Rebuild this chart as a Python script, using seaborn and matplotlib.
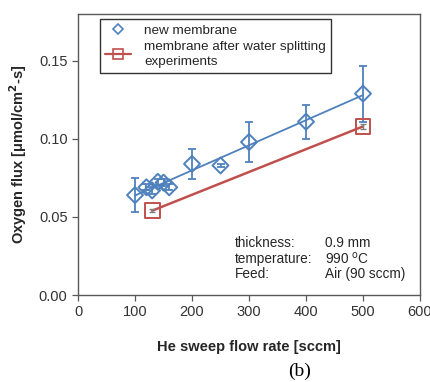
import numpy as np
import pandas as pd
import matplotlib
matplotlib.use("Agg")
import matplotlib.pyplot as plt
from matplotlib.lines import Line2D
import seaborn as sns

# He sweep flow rate [sccm] and oxygen flux [umol/cm2-s]
new_flow = [100, 120, 130, 140, 150, 160, 200, 250, 300, 400, 500]
new_flux = [0.064, 0.069, 0.067, 0.0725, 0.072, 0.069, 0.084, 0.083, 0.098, 0.111, 0.129]
new_err = [0.011, 0.002, 0.002, 0.002, 0.002, 0.002, 0.0095, 0.001, 0.013, 0.011, 0.018]

used_flow = [130, 500]
used_flux = [0.054, 0.108]
used_err = [0.001, 0.0015]

x_ticks = [0, 100, 200, 300, 400, 500, 600]
y_ticks = [0.00, 0.05, 0.10, 0.15]

blue = "#4F81BD"
red = "#C0504D"
spine = "#595959"

sns.set_style("white")
plt.rcParams["font.family"] = ["Liberation Sans", "DejaVu Sans"]

fig = plt.figure(figsize=(4.31, 3.82), dpi=100)
ax = fig.add_axes([0.181, 0.2277, 0.7935, 0.7356])

new_df = pd.DataFrame({"flow": new_flow, "flux": new_flux})
used_df = pd.DataFrame({"flow": used_flow, "flux": used_flux})

# linear trend for the new membrane
slope, intercept = np.polyfit(new_flow, new_flux, 1)
fit_x = np.array([min(new_flow), max(new_flow)])
ax.plot(fit_x, slope * fit_x + intercept, color=blue, lw=1.3, zorder=2)

# membrane after water splitting: straight line through its points
sns.lineplot(data=used_df, x="flow", y="flux", color=red, lw=1.8, ax=ax,
             zorder=2, legend=False)

ax.errorbar(new_flow, new_flux, yerr=new_err, fmt="none", ecolor=blue,
            elinewidth=1.3, capsize=3, capthick=1.3, zorder=3)
ax.errorbar(used_flow, used_flux, yerr=used_err, fmt="none", ecolor="#7f7f7f",
            elinewidth=1.0, capsize=2, capthick=1.0, zorder=3)

sns.scatterplot(data=new_df, x="flow", y="flux", marker="D", s=66,
                facecolor="none", edgecolor=blue, linewidth=1.4, ax=ax,
                zorder=4, legend=False)
sns.scatterplot(data=used_df, x="flow", y="flux", marker="s", s=115,
                facecolor="none", edgecolor=red, linewidth=1.4, ax=ax,
                zorder=4, legend=False)

ax.set_xlim(0, 600)
ax.set_ylim(0, 0.18)
ax.set_xticks(x_ticks)
ax.set_yticks(y_ticks)
ax.set_xticklabels([str(v) for v in x_ticks])
ax.set_yticklabels([f"{v:.2f}" for v in y_ticks])
ax.tick_params(axis="both", labelsize=10.5, labelcolor="#333333", length=4,
               width=0.9, color=spine, direction="out", bottom=True, left=True)
for s in ax.spines.values():
    s.set_color(spine)
    s.set_linewidth(1.0)

ax.set_xlabel("He sweep flow rate [sccm]", fontsize=10.5, fontweight="bold",
              color="#262626", labelpad=15)
ax.set_ylabel("Oxygen flux [μmol/cm$^{\\mathbf{2}}$-s]", fontsize=10.5,
              fontweight="bold", color="#262626", labelpad=7)

handles = [
    Line2D([], [], marker="D", ms=5, mfc="none", mec=blue, mew=1.2, ls="none"),
    Line2D([], [], marker="s", ms=6.5, mfc="none", mec=red, mew=1.2,
           color=red, lw=1.6),
]
labels = ["new membrane", "membrane after water splitting\nexperiments"]
leg = ax.legend(handles, labels, loc="upper left",
                bbox_to_anchor=(0.064, 0.982), borderaxespad=0,
                fontsize=9.7, frameon=True, fancybox=False, edgecolor="black",
                handlelength=1.9, handletextpad=1.0, borderpad=0.4,
                labelspacing=0.3)
leg.get_frame().set_linewidth(1.0)
for t in leg.get_texts():
    t.set_linespacing(1.3)
    t.set_color("#262626")

# operating conditions
cond_left = ["thickness:", "temperature:", "Feed:"]
cond_right = ["0.9 mm", "990 $^{\\rm o}$C", "Air (90 sccm)"]
for i, (a, b) in enumerate(zip(cond_left, cond_right)):
    yy = (295 - 243 - i * 15.5) / 281
    ax.text(0.459, yy, a, transform=ax.transAxes,
            fontsize=9.8, va="center", ha="left", color="#262626")
    ax.text(0.722, yy, b, transform=ax.transAxes,
            fontsize=9.8, va="center", ha="left", color="#262626")

fig.text(300 / 431, 1 - 371 / 382, "(b)", family="Liberation Serif",
         fontsize=14, ha="center", va="center", color="black")

fig.savefig("out.png", dpi=100, facecolor="white")
